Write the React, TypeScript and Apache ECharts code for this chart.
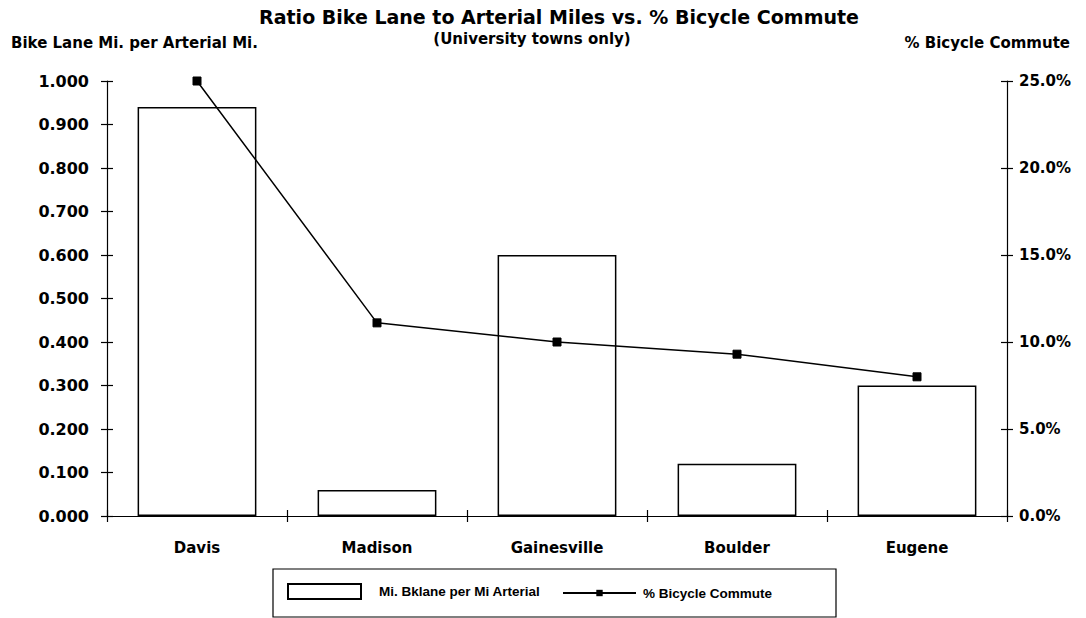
import React, { useEffect, useRef } from 'react';
import * as echarts from 'echarts';

const categories = ['Davis', 'Madison', 'Gainesville', 'Boulder', 'Eugene'];
const bikeLaneRatio = [0.94, 0.06, 0.6, 0.12, 0.3];
const bicycleCommutePct = [25.0, 11.1, 10.0, 9.3, 8.0];
const barName = 'Mi. Bklane per Mi Arterial';
const lineName = '% Bicycle Commute';
const titleText = 'Ratio Bike Lane to Arterial Miles vs. % Bicycle Commute';
const subtitleText = '(University towns only)';
const leftAxisName = 'Bike Lane Mi. per Arterial Mi.';
const rightAxisName = '% Bicycle Commute';

const FONT = 'DejaVu Sans';
const LEGEND_FONT = 'Liberation Sans';
const BLACK = '#000';

export default function App() {
  const ref = useRef<HTMLDivElement>(null);
  useEffect(() => {
    if (!ref.current) return;
    const chart = echarts.init(ref.current, null, { renderer: 'svg' });
    const labelStyle = { color: BLACK, fontFamily: FONT, fontWeight: 'bold' as const, fontSize: 16 };
    const tickLine = { color: BLACK, width: 1.2 };
    chart.setOption({
      animation: false,
      backgroundColor: '#fff',
      grid: { left: 107, right: 79, top: 81, bottom: 102, containLabel: false },
      graphic: [
        { type: 'text', x: 559, y: 17, style: { text: titleText, textAlign: 'center', textVerticalAlign: 'middle', fontFamily: FONT, fontWeight: 'bold', fontSize: 19, fill: BLACK } },
        { type: 'text', x: 532, y: 39, style: { text: subtitleText, textAlign: 'center', textVerticalAlign: 'middle', fontFamily: FONT, fontWeight: 'bold', fontSize: 15, fill: BLACK } },
        { type: 'text', x: 11, y: 43, style: { text: leftAxisName, textAlign: 'left', textVerticalAlign: 'middle', fontFamily: FONT, fontWeight: 'bold', fontSize: 15, fill: BLACK } },
        { type: 'text', x: 1070, y: 43, style: { text: rightAxisName, textAlign: 'right', textVerticalAlign: 'middle', fontFamily: FONT, fontWeight: 'bold', fontSize: 15, fill: BLACK } },
        { type: 'rect', shape: { x: 273, y: 569, width: 563, height: 48 }, style: { fill: 'none', stroke: BLACK, lineWidth: 1.2 } },
      ],
      legend: [
        {
          data: [{ name: barName, icon: 'rect' }],
          left: 287, top: 583, padding: 0, itemWidth: 73, itemHeight: 15,
          textStyle: { color: BLACK, fontFamily: LEGEND_FONT, fontWeight: 'bold', fontSize: 13.5, padding: [0, 0, 0, 13] },
        },
        {
          data: [{ name: lineName }],
          left: 562, top: 586, padding: 0, itemWidth: 73, itemHeight: 8,
          textStyle: { color: BLACK, fontFamily: LEGEND_FONT, fontWeight: 'bold', fontSize: 13.5, padding: [0, 0, 0, 2] },
        },
      ],
      xAxis: [
        {
          type: 'category', data: categories, position: 'bottom',
          axisLine: { show: true, lineStyle: { color: BLACK, width: 1.2 } },
          axisTick: { show: true, length: 6, lineStyle: tickLine },
          axisLabel: { ...labelStyle, fontSize: 15, margin: 24 },
          splitLine: { show: false },
        },
        {
          type: 'category', data: categories, position: 'bottom',
          axisLine: { show: false },
          axisTick: { show: true, inside: true, length: 6, lineStyle: tickLine },
          axisLabel: { show: false },
          splitLine: { show: false },
        },
      ],
      yAxis: [
        {
          type: 'value', min: 0, max: 1, interval: 0.1, position: 'left',
          axisLine: { show: true, lineStyle: { color: BLACK, width: 1.2 } },
          axisTick: { show: true, length: 6, lineStyle: tickLine },
          axisLabel: { ...labelStyle, margin: 18, formatter: (v: number) => v.toFixed(3) },
          splitLine: { show: false },
        },
        {
          type: 'value', min: 0, max: 25, interval: 5, position: 'right',
          axisLine: { show: true, lineStyle: { color: BLACK, width: 1.2 } },
          axisTick: { show: true, length: 6, lineStyle: tickLine },
          axisLabel: { ...labelStyle, fontSize: 15, margin: 12, formatter: (v: number) => v.toFixed(1) + '%' },
          splitLine: { show: false },
        },
        {
          type: 'value', min: 0, max: 1, interval: 0.1, position: 'left',
          axisLine: { show: false }, axisLabel: { show: false }, splitLine: { show: false },
          axisTick: { show: true, inside: true, length: 6, lineStyle: tickLine },
        },
        {
          type: 'value', min: 0, max: 25, interval: 5, position: 'right',
          axisLine: { show: false }, axisLabel: { show: false }, splitLine: { show: false },
          axisTick: { show: true, inside: true, length: 6, lineStyle: tickLine },
        },
      ],
      series: [
        {
          name: barName, type: 'bar', data: bikeLaneRatio, xAxisIndex: 0, yAxisIndex: 0,
          barWidth: '66%',
          itemStyle: { color: '#fff', borderColor: BLACK, borderWidth: 1.5 },
        },
        {
          name: lineName, type: 'line', data: bicycleCommutePct, xAxisIndex: 0, yAxisIndex: 1,
          symbol: 'rect', symbolSize: 8,
          lineStyle: { color: BLACK, width: 1.5 },
          itemStyle: { color: BLACK, borderColor: BLACK },
        },
      ],
    });
    return () => chart.dispose();
  }, []);
  return <div ref={ref} style={{ position: 'fixed', left: 0, top: 0, width: 1086, height: 618 }} />;
}
